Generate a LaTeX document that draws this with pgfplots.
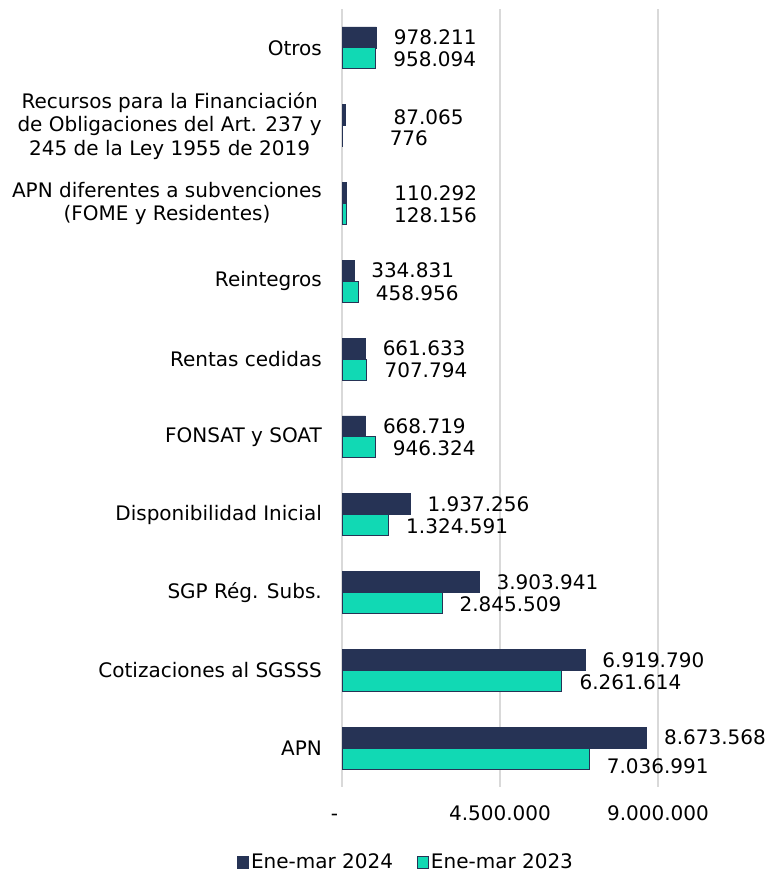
\documentclass[border=0pt]{standalone}
\usepackage{pgfplots}
\pgfplotsset{compat=1.18}
\usepackage{pgfplotstable}
\usepackage{fontspec}
\setmainfont{DejaVu Sans}
\definecolor{darkbar}{RGB}{38,51,85}
\definecolor{tealbar}{RGB}{17,217,180}
\definecolor{gridc}{RGB}{217,217,217}

\pgfplotstableread{
y x lbl dx dy
0 8673568 8.673.568 14 10.5
1 6919790 6.919.790 14 10.5
2 3903941 3.903.941 14 10.5
3 1937256 1.937.256 14 10.5
4 668719 668.719 14 10.5
5 661633 661.633 14 10.5
6 334831 334.831 14 11.5
7 110292 110.292 45 10.5
8 87065 87.065 45 8.5
9 978211 978.211 14 10.5
}\darkdata

\pgfplotstableread{
y x lbl dx dy
0 7036991 7.036.991 14 -18.5
1 6261614 6.261.614 14 -11.5
2 2845509 2.845.509 14 -11.5
3 1324591 1.324.591 14 -11.5
4 946324 946.324 14 -11.5
5 707794 707.794 14 -11.5
6 458956 458.956 14 -11.5
7 128156 128.156 44 -11.5
8 776 776 44 -12.5
9 958094 958.094 14 -11.5
}\tealdata

\begin{document}
\begin{tikzpicture}[font=\fontsize{20}{23.5}\selectfont]
\begin{axis}[
  at={(342pt,90pt)}, anchor=south west,
  scale only axis, width=316pt, height=778pt,
  xmin=0, xmax=9000000, ymin=-0.5, ymax=9.5,
  axis line style={draw=none},
  clip=false,
  xmajorgrids, grid style={gridc, line width=1.5pt},
  xtick={0,4500000,9000000},
  xticklabels={{\llap{-\hspace{4pt}}\vphantom{0}},{4.500.000},{9.000.000}},
  scaled x ticks=false,
  ytick={0,...,9},
  yticklabels={{APN},{Cotizaciones al SGSSS},{SGP Rég. Subs.},{Disponibilidad Inicial},{FONSAT y SOAT},{Rentas cedidas},{Reintegros},{APN diferentes a subvenciones\\(FOME y Residentes)},{Recursos para la Financiación\\de Obligaciones del Art. 237 y\\245 de la Ley 1955 de 2019},{Otros}},
  major tick length=0pt,
  tick style={draw=none},
  yticklabel style={align=center, anchor=east, inner sep=0pt, xshift=-20pt},
  xticklabel style={anchor=north, inner sep=0pt, yshift=-18pt},
  legend style={at={(0.203,-0.0964)}, anchor=center, draw=none, fill=none,
    legend columns=2, font=\fontsize{20}{23.5}\selectfont,
    /tikz/every even column/.append style={column sep=22pt},
    legend cell align=left},
  legend image code/.code={\draw[#1, line width=0.8pt] (0pt,-6pt) rectangle (11pt,6pt);},
]
\addplot[xbar, bar width=21pt, bar shift=10.5pt, fill=darkbar, draw=darkbar,
  nodes near coords, point meta=explicit symbolic,
  visualization depends on={\thisrow{dx} \as \dx},
  visualization depends on={\thisrow{dy} \as \dy},
  nodes near coords style={anchor=west, xshift=\dx pt, yshift=\dy pt, text=black}]
  table[x=x, y=y, meta=lbl]{\darkdata};
\addlegendentry{Ene-mar 2024}
\addplot[xbar, bar width=21pt, bar shift=-10.5pt, fill=tealbar, draw=darkbar, line width=0.8pt,
  nodes near coords, point meta=explicit symbolic,
  visualization depends on={\thisrow{dx} \as \dx},
  visualization depends on={\thisrow{dy} \as \dy},
  nodes near coords style={anchor=west, xshift=\dx pt, yshift=\dy pt, text=black}]
  table[x=x, y=y, meta=lbl]{\tealdata};
\addlegendentry{Ene-mar 2023}
\end{axis}
\pgfresetboundingbox
\path (0pt,0pt) rectangle (778pt,877pt);
\end{tikzpicture}
\end{document}
